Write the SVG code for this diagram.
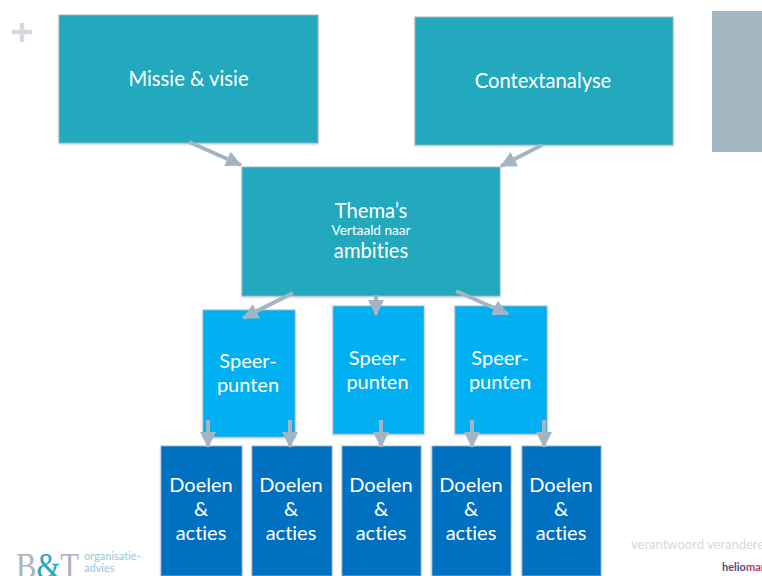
<svg xmlns="http://www.w3.org/2000/svg" width="762" height="576" viewBox="0 0 762 576">
<style>
text{font-family:Lato,"Liberation Sans",sans-serif;fill:#fff;text-anchor:middle;font-variant-ligatures:none}
.n rect{stroke:#a3b9c6;stroke-opacity:.55;stroke-width:1.5;filter:url(#s)}
.t rect{fill:#20a9be}.s rect{fill:#00b0f0}.d rect{fill:#0070c0}
.l{font-size:20.2px}.m{font-size:20px}
.c line{stroke:#a3b5c3;stroke-width:4;marker-end:url(#a)}
.lg{fill:#8fc9d6;text-anchor:start;font-size:11px}
</style>
<defs>
<marker id="a" markerUnits="userSpaceOnUse" markerWidth="18" markerHeight="16" refX="15" refY="8" orient="auto"><path d="M0 0L16 8L0 16Z" fill="#a3b5c3"/></marker>
<filter id="s" x="-5%" y="-5%" width="110%" height="110%"><feDropShadow dx="0" dy="1" stdDeviation="1" flood-color="#888" flood-opacity=".45"/></filter>
</defs>
<rect width="762" height="576" fill="#fff"/>
<path d="M22 23V42M12 32H32" stroke="#d3d9e0" stroke-width="4.5" fill="none"/>
<rect x="712" y="11" width="50" height="141" fill="#a3b7c3"/>
<g id="n-missie" class="n t"><rect x="59" y="15" width="259" height="128"/><text class="l" x="188.500" y="86">Missie &amp; visie</text></g>
<g id="n-context" class="n t"><rect x="415" y="17" width="258" height="128"/><text class="l" x="543" y="88">Contextanalyse</text></g>
<g id="n-themas" class="n t"><rect x="242" y="167" width="258" height="129"/><text class="l" x="371" y="218">Thema’s</text><text x="371" y="235" font-size="13.6">Vertaald naar</text><text class="l" x="371" y="258">ambities</text></g>
<g id="n-s1" class="n s"><rect x="203" y="310" width="92" height="127"/><text class="m" x="248" y="368">Speer-</text><text class="m" x="248" y="392">punten</text></g>
<g id="n-s2" class="n s"><rect x="333" y="306" width="91" height="128"/><text class="m" x="377.500" y="365">Speer-</text><text class="m" x="377.500" y="389">punten</text></g>
<g id="n-s3" class="n s"><rect x="455" y="306" width="92" height="128"/><text class="m" x="500" y="365">Speer-</text><text class="m" x="500" y="389">punten</text></g>
<g id="n-d1" class="n d"><rect x="161" y="446" width="81" height="130"/><text class="m" x="201" y="492">Doelen</text><text class="m" x="201" y="516">&amp;</text><text class="m" x="201" y="540">acties</text></g>
<g id="n-d2" class="n d"><rect x="252" y="446" width="80" height="130"/><text class="m" x="291" y="492">Doelen</text><text class="m" x="291" y="516">&amp;</text><text class="m" x="291" y="540">acties</text></g>
<g id="n-d3" class="n d"><rect x="342" y="446" width="79" height="130"/><text class="m" x="381" y="492">Doelen</text><text class="m" x="381" y="516">&amp;</text><text class="m" x="381" y="540">acties</text></g>
<g id="n-d4" class="n d"><rect x="432" y="446" width="79" height="130"/><text class="m" x="471" y="492">Doelen</text><text class="m" x="471" y="516">&amp;</text><text class="m" x="471" y="540">acties</text></g>
<g id="n-d5" class="n d"><rect x="522" y="446" width="79" height="130"/><text class="m" x="561" y="492">Doelen</text><text class="m" x="561" y="516">&amp;</text><text class="m" x="561" y="540">acties</text></g>
<g id="connectors" class="c">
<line x1="189" y1="142" x2="241" y2="165"/>
<line x1="542" y1="145" x2="501" y2="166"/>
<line x1="293" y1="293" x2="243" y2="318"/>
<line x1="376" y1="295" x2="376" y2="315"/>
<line x1="456" y1="291" x2="508" y2="314"/>
<line x1="208" y1="420" x2="208" y2="447"/>
<line x1="290" y1="420" x2="290" y2="447"/>
<line x1="381" y1="420" x2="381" y2="447"/>
<line x1="472" y1="420" x2="472" y2="447"/>
<line x1="544" y1="420" x2="544" y2="447"/>
</g>
<text x="16" y="578" textLength="63" lengthAdjust="spacingAndGlyphs" style="font-family:'Liberation Serif',serif;fill:#a9b2bd;font-size:36px;text-anchor:start">B<tspan style="fill:#23a8bc">&amp;</tspan>T</text>
<text class="lg" x="84" y="560">organisatie-</text><text class="lg" x="84" y="572">advies</text>
<text x="631" y="549" style="fill:#d5d9de;text-anchor:start;font-size:13px">verantwoord veranderen</text>
<text x="722" y="571" style="fill:#5b4a7c;text-anchor:start;font-size:11px;font-weight:700">helio<tspan style="fill:#b0405a">mar</tspan></text>
</svg>
